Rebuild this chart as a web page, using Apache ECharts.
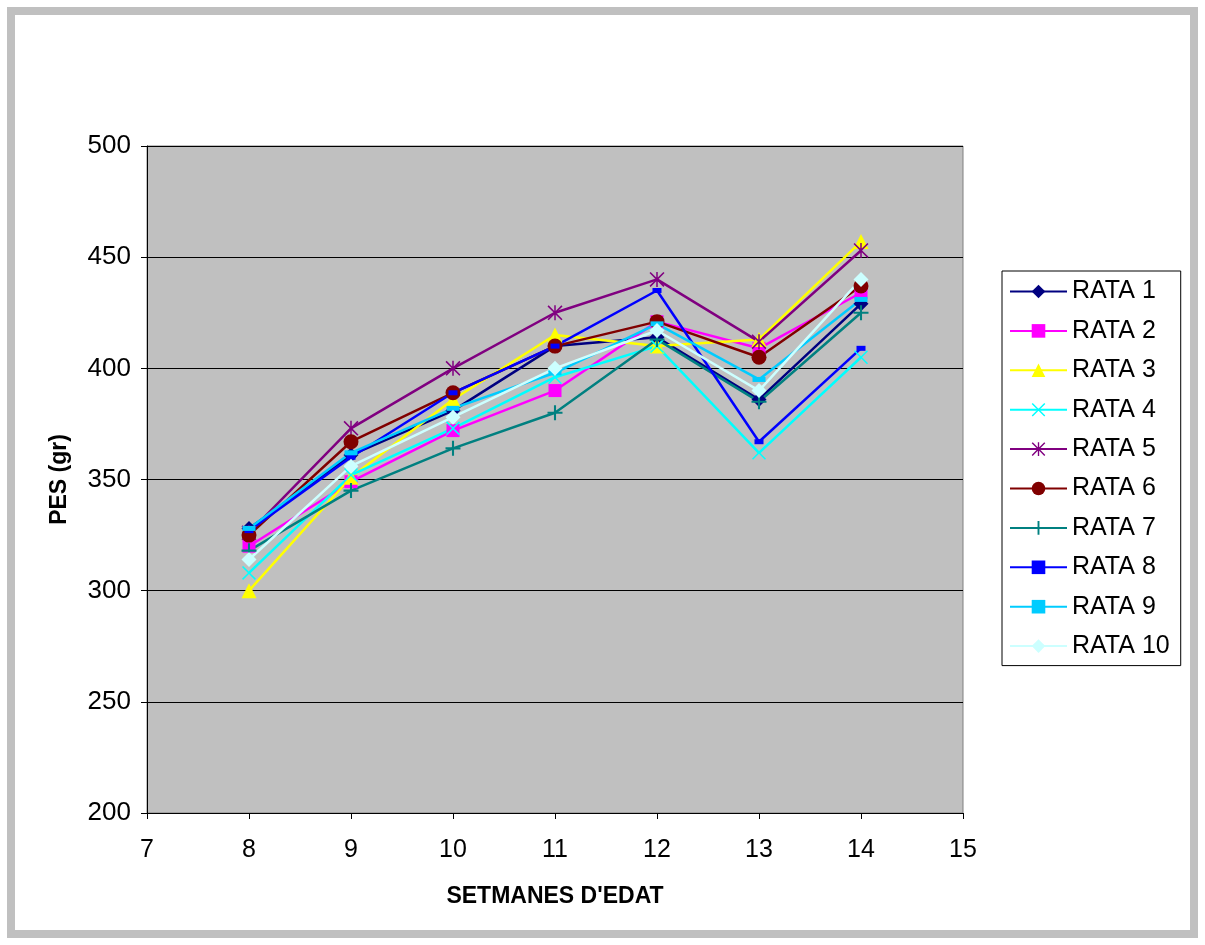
<!DOCTYPE html>
<html>
<head>
<meta charset="utf-8">
<script src="https://cdn.jsdelivr.net/npm/echarts@6/dist/echarts.min.js"></script>
<style>html,body{margin:0;padding:0;background:#fff;}#c{width:1205px;height:945px;}</style>
</head>
<body>
<div id="c"></div>
<script>
const weeks = [8, 9, 10, 11, 12, 13, 14];
const seriesNames = ['RATA 1','RATA 2','RATA 3','RATA 4','RATA 5','RATA 6','RATA 7','RATA 8','RATA 9','RATA 10'];
const rata1  = [328, 361, 381, 410, 414, 386, 429];
const rata2  = [320, 349, 372, 390, 421, 409, 434];
const rata3  = [300, 351, 386, 415, 410, 413, 457];
const rata4  = [308, 352, 373, 396, 410, 362, 405];
const rata5  = [326, 373, 400, 425, 440, 412, 453];
const rata6  = [325, 367, 389, 410, 421, 405, 437];
const rata7  = [318, 345, 364, 380, 413, 385, 425];
const rata8  = [327, 360, 389, 410, 435, 367, 409];
const rata9  = [328, 362, 382, 398, 420, 395, 431];
const rata10 = [314, 356, 378, 400, 417, 390, 440];
const allValues = [rata1, rata2, rata3, rata4, rata5, rata6, rata7, rata8, rata9, rata10];

const FONT = 'Liberation Sans, Arial, sans-serif';
const xPath = 'path://M0,1.5 L1.5,0 L10,8.5 L18.5,0 L20,1.5 L11.5,10 L20,18.5 L18.5,20 L10,11.5 L1.5,20 L0,18.5 L8.5,10 Z';
const astPath = 'path://M0,1.5 L1.5,0 L10,8.5 L18.5,0 L20,1.5 L11.5,10 L20,18.5 L18.5,20 L10,11.5 L1.5,20 L0,18.5 L8.5,10 Z M9,0 L11,0 L11,20 L9,20 Z';
const plusPath = 'path://M8.6,0 L11.4,0 L11.4,8.6 L20,8.6 L20,11.4 L11.4,11.4 L11.4,20 L8.6,20 L8.6,11.4 L0,11.4 L0,8.6 L8.6,8.6 Z';

const styles = [
  {color:'#000080', symbol:'diamond', size:15},
  {color:'#FF00FF', symbol:'rect', size:13},
  {color:'#FFFF00', symbol:'triangle', size:15},
  {color:'#00FFFF', symbol:xPath, size:14},
  {color:'#800080', symbol:astPath, size:15},
  {color:'#800000', symbol:'circle', size:15},
  {color:'#008080', symbol:plusPath, size:15},
  {color:'#0000FF', symbol:'rect', size:[9,5]},
  {color:'#00CCFF', symbol:'rect', size:[13,5]},
  {color:'#CCFFFF', symbol:'diamond', size:15}
];

const series = seriesNames.map((name, i) => ({
  name: name,
  type: 'line',
  data: weeks.map((w, j) => [w, allValues[i][j]]),
  symbol: styles[i].symbol,
  symbolSize: styles[i].size,
  showAllSymbol: true,
  lineStyle: {color: styles[i].color, width: 2.5},
  itemStyle: {color: styles[i].color, borderWidth: 0},
  emphasis: {disabled: true},
  animation: false
}));

const chart = echarts.init(document.getElementById('c'));
chart.setOption({
  backgroundColor: '#fff',
  animation: false,
  graphic: [{
    type: 'rect', shape: {x: 11, y: 11, width: 1183, height: 923},
    style: {fill: 'none', stroke: '#c0c0c0', lineWidth: 8}, silent: true, z: -10
  }],
  grid: {left: 147, right: 242, top: 146, bottom: 132, show: true, backgroundColor: '#c0c0c0', borderColor: '#808080', borderWidth: 1},
  xAxis: {
    type: 'value', min: 7, max: 15, interval: 1,
    name: "SETMANES D'EDAT", nameLocation: 'middle', nameGap: 72,
    nameTextStyle: {fontFamily: FONT, fontSize: 23, fontWeight: 'bold', color: '#000'},
    axisLine: {show: true, lineStyle: {color: '#000', width: 1}},
    axisTick: {show: true, length: 6, lineStyle: {color: '#000'}},
    axisLabel: {fontFamily: FONT, fontSize: 25, color: '#000', margin: 25},
    splitLine: {show: false}
  },
  yAxis: {
    type: 'value', min: 200, max: 500, interval: 50,
    name: 'PES (gr)', nameLocation: 'middle', nameGap: 76, nameRotate: 90,
    nameTextStyle: {fontFamily: FONT, fontSize: 23, fontWeight: 'bold', color: '#000'},
    axisLine: {show: true, lineStyle: {color: '#000', width: 1}},
    axisTick: {show: true, length: 6, lineStyle: {color: '#000'}},
    axisLabel: {fontFamily: FONT, fontSize: 26, color: '#000', margin: 16},
    splitLine: {show: true, lineStyle: {color: '#000', width: 1}}
  },
  legend: {
    orient: 'vertical', left: 1002, top: 271,
    data: seriesNames,
    backgroundColor: '#fff', borderColor: '#000', borderWidth: 1,
    padding: [8, 11, 7, 7],
    itemWidth: 57, itemHeight: 17, itemGap: 14.4,
    textStyle: {fontFamily: FONT, fontSize: 25, color: '#000'},
    selectedMode: false
  },
  series: series
});
</script>
</body>
</html>
